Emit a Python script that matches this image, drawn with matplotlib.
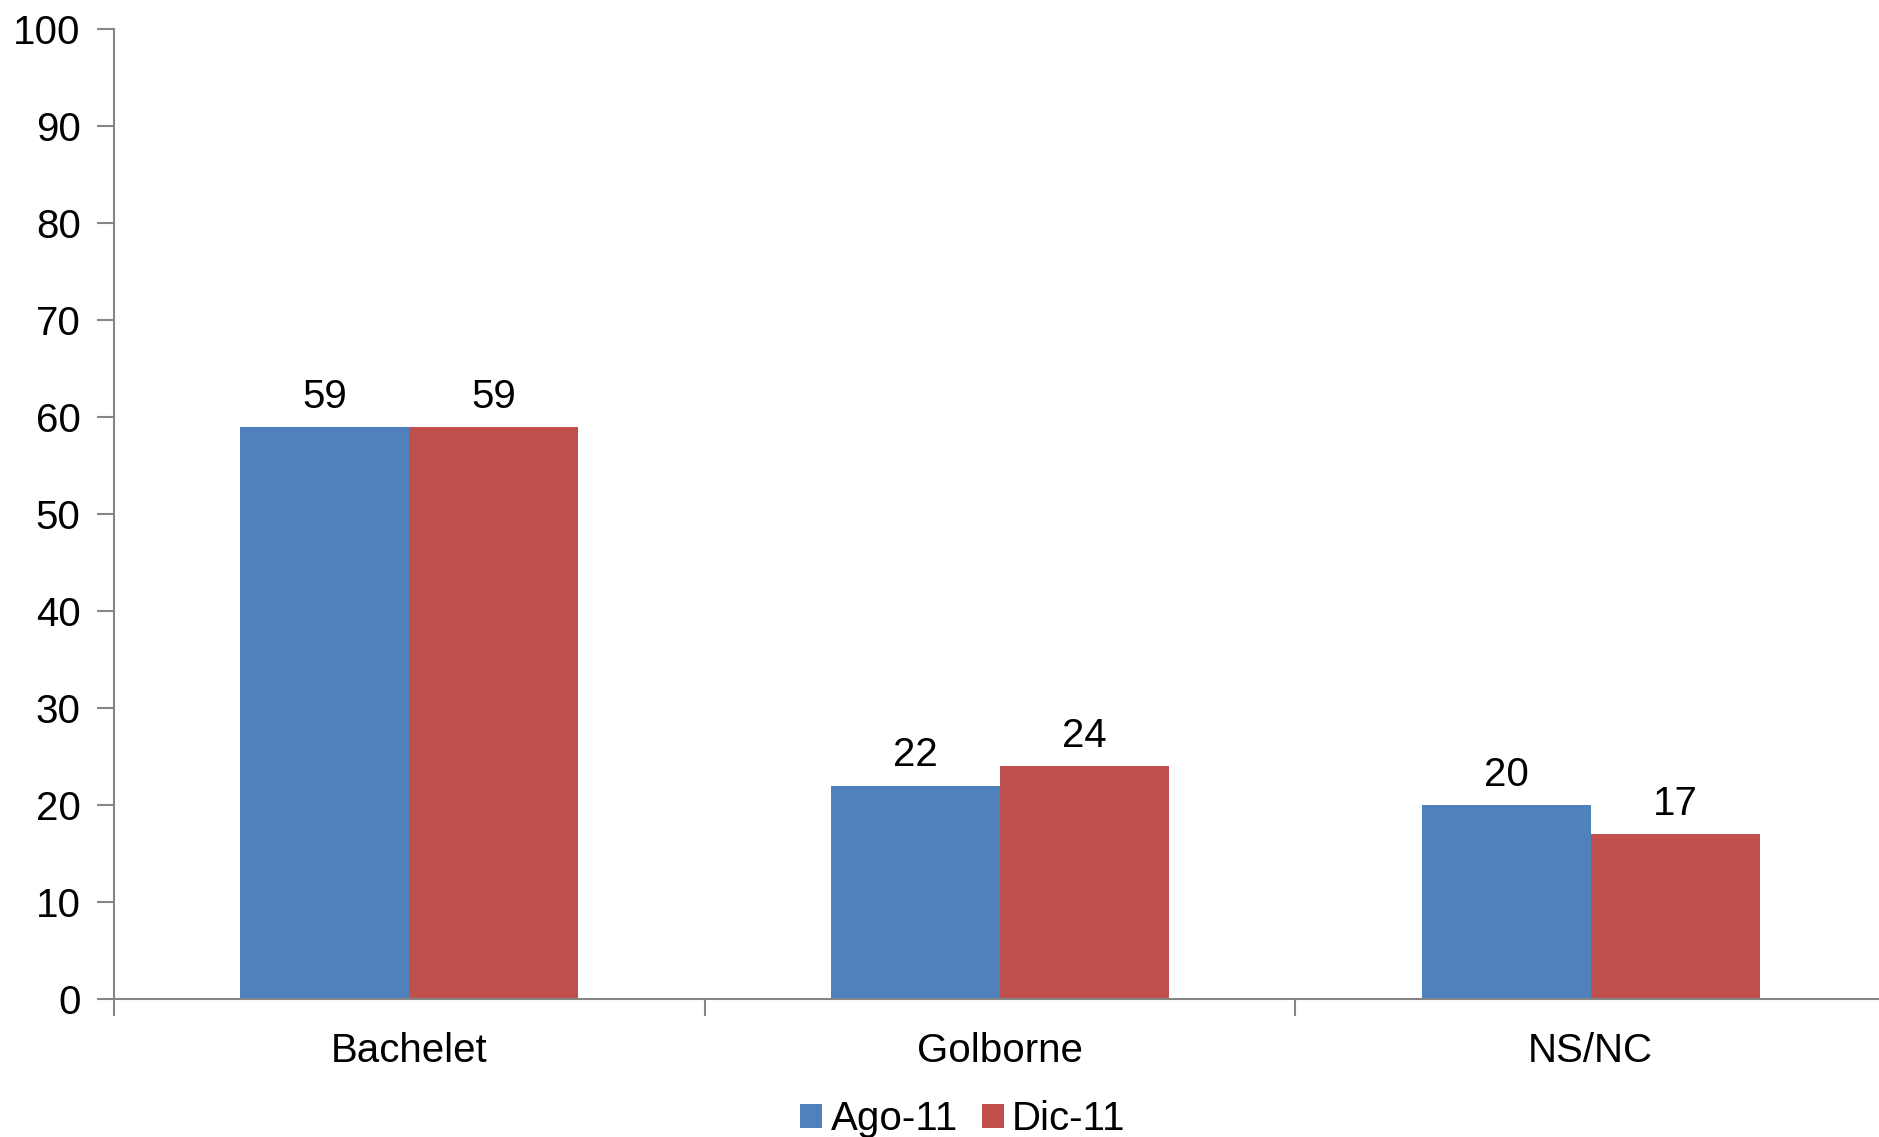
import matplotlib
matplotlib.use("Agg")
import matplotlib.pyplot as plt
import numpy as np

plt.rcParams['font.family'] = ['Liberation Sans', 'DejaVu Sans']

categories = ["Bachelet", "Golborne", "NS/NC"]
series_names = ["Ago-11", "Dic-11"]
ago = [59, 22, 20]
dic = [59, 24, 17]
colors = ["#4F81BD", "#C0504D"]
yticks = [0, 10, 20, 30, 40, 50, 60, 70, 80, 90, 100]

fig = plt.figure(figsize=(18.79, 11.37), dpi=100)
ax = fig.add_axes([114/1879, 1 - 999/1137, 1772/1879, (999-29)/1137])

x = np.arange(len(categories))
w = 0.286
b1 = ax.bar(x - w/2, ago, w, color=colors[0], label=series_names[0])
b2 = ax.bar(x + w/2, dic, w, color=colors[1], label=series_names[1])
for bars in (b1, b2):
    ax.bar_label(bars, fmt="%d", padding=8, fontsize=29)

ax.set_xlim(-0.5, 2.5)
ax.set_ylim(0, 100)
ax.set_yticks(yticks)
ax.tick_params(axis='y', labelsize=29, length=12, width=1.5, color="#868686", pad=12)
ax.set_xticks(x)
ax.set_xticklabels(categories)
ax.tick_params(axis='x', which='major', length=0, labelsize=29, pad=24)
ax.set_xticks([-0.5, 0.5, 1.5], minor=True)
ax.tick_params(axis='x', which='minor', length=12, width=1.5, color="#868686")
for s in ["top", "right"]:
    ax.spines[s].set_visible(False)
for s in ["left", "bottom"]:
    ax.spines[s].set_color("#868686")
    ax.spines[s].set_linewidth(1.5)

fig.legend(handles=[b1, b2], labels=series_names, loc="center", bbox_to_anchor=(963/1879, 1 - 1119/1137),
           ncol=2, frameon=False, fontsize=29, handlelength=0.55, handleheight=0.55,
           handletextpad=0.2, columnspacing=0.6)

fig.savefig("out.png", dpi=100)
